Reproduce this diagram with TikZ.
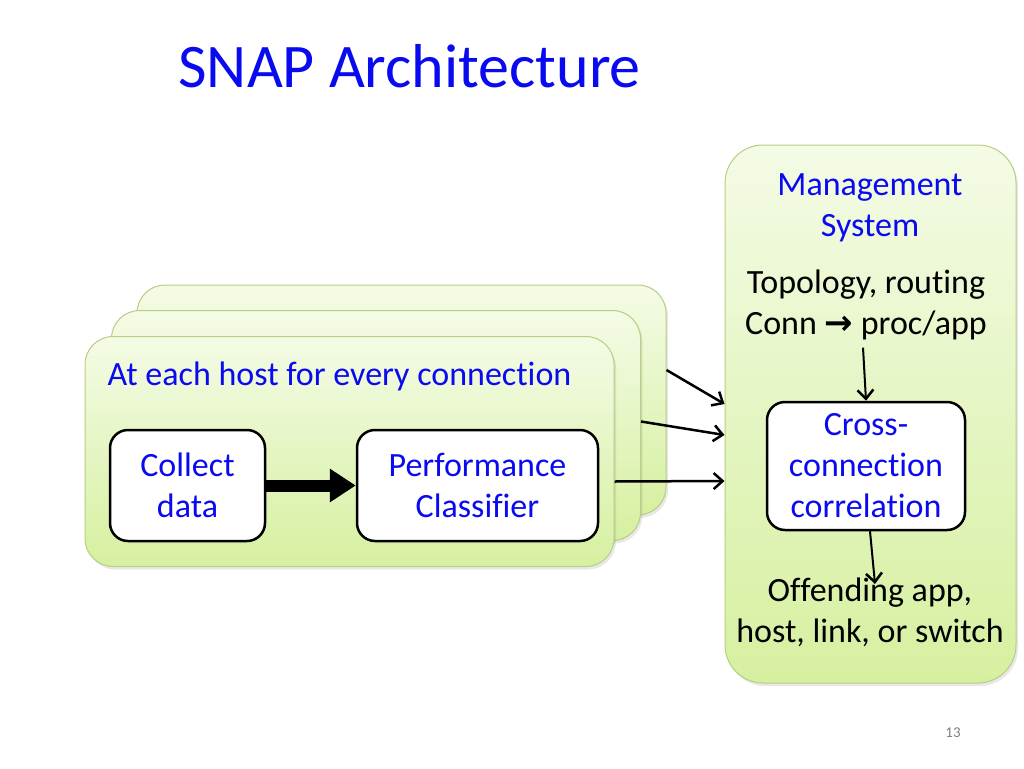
\documentclass[tikz,border=0pt]{standalone}
\usepackage{fontspec}
\setmainfont{Carlito}[Ligatures=NoCommon]
\newfontfamily\symfont{DejaVu Sans}
\usepackage{xcolor}
\usetikzlibrary{calc}
\usetikzlibrary{arrows.meta}
\usetikzlibrary{shadows}

\definecolor{slideblue}{RGB}{10,10,240}
\definecolor{greentop}{RGB}{244,251,230}
\definecolor{greenbot}{RGB}{214,240,160}
\definecolor{greenline}{RGB}{184,206,130}

\begin{document}
\begin{tikzpicture}[x=1pt,y=-1pt]

\tikzset{
    panel/.style = {
    draw=greenline, line width=1pt,
    top color=greentop, bottom color=greenbot,
    drop shadow={opacity=0.18, shadow xshift=2pt, shadow yshift=-3pt}
    }
}

\tikzstyle{host}=[panel, rounded corners=28pt, minimum width=529pt, minimum height=230pt]
\tikzstyle{inner}=[draw, line width=2.5pt, fill=white, rounded corners=18pt, align=center, text=slideblue, font=\fontsize{34}{41}\selectfont]
\tikzstyle{body}=[align=center, font=\fontsize{34}{41}\selectfont]
\tikzstyle{feed}=[line width=2.5pt, -{Straight Barb[length=9pt,width=16pt,line width=2.5pt]}]

\useasboundingbox (0,0) rectangle (1024,768);

\node (title) [anchor=base west, text=slideblue, font=\fontsize{62}{70}\selectfont] at (175,87) {SNAP Architecture};

% three stacked hosts
\node (host-3) [host] at (401.5,400) {};
\node (host-2) [host] at (376,425.5) {};
\node (host-1) [host] at (349.5,451.5) {};

\node (each) [anchor=base west, text=slideblue, font=\fontsize{34}{41}\selectfont] at (104,385) {At each host for every connection};

\node (collect) [inner, minimum width=155pt, minimum height=111pt] at (187.5,485.5) {Collect\\data};
\node (classif) [inner, minimum width=241pt, minimum height=111pt] at (477.5,485.5) {Performance\\Classifier};

\draw [line width=12pt, -{Triangle[length=26pt,width=32pt]}] (collect.east) -- (classif.west);

% management side
\node (mgmt) [panel, rounded corners=38pt, minimum width=291pt, minimum height=538pt] at (870.5,414) {};

\node (mgmt-title) [body, text=slideblue] at (870,208) {Management\\System};
\node (topo) [body] at (866,305) {Topology, routing\\Conn {\symfont\bfseries →} proc/app};
\node (xcorr) [inner, minimum width=198pt, minimum height=128pt] at (866,466) {Cross-\\connection\\correlation};
\node (offend) [body] at (870,612) {Offending app,\\host, link, or switch};

\draw [feed, line width=2pt] ([xshift=-3pt,yshift=-4pt]topo.south) -- (xcorr.north);
\draw [feed, line width=2pt] ([xshift=4pt]xcorr.south) -- ([xshift=5pt,yshift=-10pt]offend.north);

\draw [feed] ([yshift=30pt]host-3.east) -- ([yshift=10pt]mgmt.west);
\draw [feed] ([yshift=4pt]host-2.east) -- ([yshift=-21pt]mgmt.west);
\draw [feed] ([yshift=-30pt]host-1.east) -- ([yshift=-67pt]mgmt.west);

\node (page) [text=gray, font=\fontsize{15}{17}\selectfont] at (953,733) {13};

\end{tikzpicture}
\end{document}
